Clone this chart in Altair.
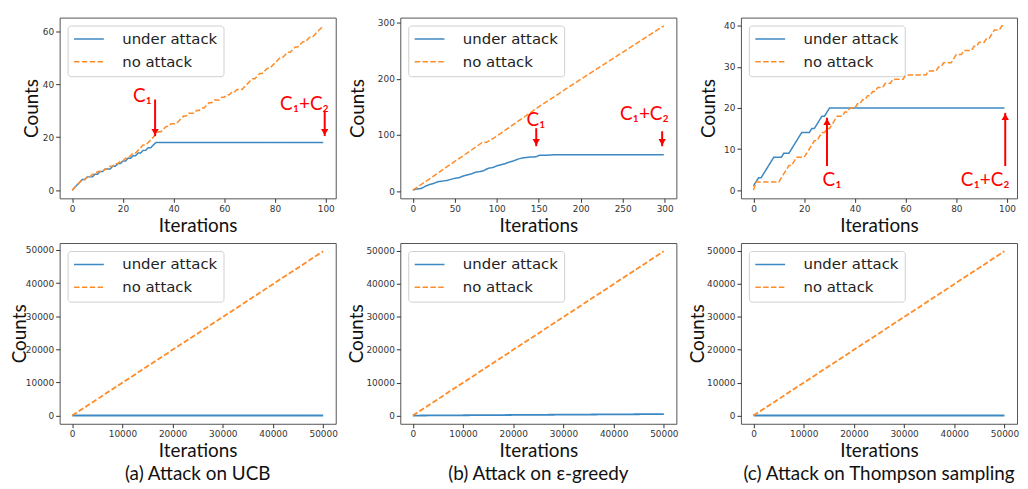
import altair as alt
import pandas as pd

SERIES = ["under attack", "no attack"]
BLUE = "#3b88c3"
ORANGE = "#ff8b26"
RED = "#ff0000"
W, H = 278, 182

# ---------- (a) UCB, first 100 iterations ----------
a1_under_x = list(range(34)) + [99]
a1_under_y = [0, 1, 2, 3, 4, 4, 5, 5, 5, 6, 6, 7, 7, 8, 8, 8, 9, 9, 10, 10,
              11, 11, 12, 12, 13, 13, 14, 14, 15, 15, 16, 16, 17, 18, 18]
a1_none_x = list(range(100))
a1_none_y = [0, 1, 2, 3, 4, 4, 5, 5, 6, 6, 7, 7, 7, 8, 8, 9, 9, 10, 10, 11,
             11, 12, 12, 13, 14, 14, 15, 16, 17, 17, 18, 19, 20, 21, 22, 22, 23, 24, 24, 25,
             25, 25, 26, 27, 28, 28, 29, 29, 29, 30, 30, 31, 31, 32, 33, 33, 34, 34, 34, 35,
             35, 36, 36, 37, 37, 38, 38, 38, 39, 40, 41, 42, 42, 43, 44, 44, 45, 46, 46, 47,
             48, 49, 50, 50, 51, 52, 52, 53, 54, 54, 55, 56, 56, 57, 58, 58, 59, 60, 61, 62]
a1_arrow_x = [32.7, 99.6]
a1_arrow_from = [34.2, 30.0]
a1_arrow_tip = [20.4, 20.4]
a1_label_x = [27.7, 91.6]
a1_label_y = [35.5, 32.5]
a1_label_text = ["C₁", "C₁+C₂"]

# ---------- (b) epsilon-greedy, first 300 iterations ----------
b1_under_x = [0, 5, 10, 15, 20, 25, 30, 35, 40, 45, 50, 55, 60, 65, 70, 75, 80, 85, 90, 95,
              100, 105, 110, 115, 120, 125, 130, 135, 140, 145, 148, 151, 160, 170, 299]
b1_under_y = [2, 4, 5, 9, 12, 14, 17, 18, 19, 21, 23, 24, 27, 29, 31, 34, 35, 37, 41, 42,
              45, 47, 49, 52, 54, 57, 59, 60, 61, 61, 62, 64, 64, 65, 65]
b1_none_x = [0, 20, 40, 60, 82, 88, 100, 150, 200, 250, 299]
b1_none_y = [2, 22, 43, 63, 86, 87, 98, 150, 199, 247, 294]
b1_arrow_x = [147, 297]
b1_arrow_from = [112, 106.6]
b1_arrow_tip = [80, 80]
b1_label_x = [146.6, 275.8]
b1_label_y = [126, 137]
b1_label_text = ["C₁", "C₁+C₂"]

# ---------- (c) Thompson sampling, first 100 iterations ----------
c1_under_x = list(range(31)) + [99]
c1_under_y = [1, 2, 3, 3, 4, 5, 6, 7, 8, 8, 8, 8, 9, 9, 9, 10, 11, 12, 13, 14,
              14, 14, 14, 15, 15, 16, 17, 18, 18, 19, 20, 20]
c1_none_x = list(range(100))
c1_none_y = [0, 2, 2, 2, 2, 2, 2, 2, 2, 2, 2, 3, 4, 5, 6, 6, 7, 8, 8, 8,
             8, 9, 10, 11, 12, 12, 13, 14, 14, 15, 15, 16, 17, 18, 18, 18, 19, 19, 20, 20,
             20, 21, 21, 22, 22, 23, 23, 24, 24, 25, 25, 25, 26, 26, 26, 27, 27, 27, 27, 27,
             28, 28, 28, 28, 28, 28, 28, 28, 28, 29, 29, 29, 29, 30, 30, 31, 31, 31, 31, 32,
             33, 33, 33, 34, 34, 34, 34, 35, 35, 36, 36, 36, 37, 37, 38, 39, 39, 39, 40, 40]
c1_arrow_x = [29, 99.3]
c1_arrow_from = [5.85, 5.85]
c1_arrow_tip = [17.6, 18.8]
c1_label_x = [31, 91.4]
c1_label_y = [2.4, 2.4]
c1_label_text = ["C₁", "C₁+C₂"]

# ---------- long horizon (50000 iterations) ----------
a2_under_x = [0, 33, 49999]
a2_under_y = [0, 18, 18]
a2_none_x = [0, 49999]
a2_none_y = [0, 49600]

b2_under_x = [0, 49999]
b2_under_y = [2, 450]
b2_none_x = [0, 49999]
b2_none_y = [2, 49900]

c2_under_x = [0, 30, 49999]
c2_under_y = [1, 20, 20]
c2_none_x = [0, 49999]
c2_none_y = [0, 49800]

ticks_100 = [0, 20, 40, 60, 80, 100]
ticks_300 = [0, 50, 100, 150, 200, 250, 300]
ticks_50k = [0, 10000, 20000, 30000, 40000, 50000]


def margin(vals):
    lo, hi = min(vals), max(vals)
    p = 0.05 * (hi - lo)
    return [lo - p, hi + p]


LEG = alt.Legend(
    title=None, orient="top-left", offset=8,
    symbolType="M-3,0H3", symbolSize=100, symbolStrokeWidth=1.5,
    symbolOffset=8, labelOffset=26,
    labelFont="DejaVu Sans", labelFontSize=15, labelColor="#222",
    padding=6, rowPadding=7, fillColor="white", strokeColor="#d0d0d0",
    cornerRadius=3,
)


def panel(ux, uy, nx, ny, xticks, yticks, title_x, ann=None, caption=None, lw=1.5):
    df = pd.DataFrame({
        "x": ux + nx,
        "y": uy + ny,
        "series": [SERIES[0]] * len(ux) + [SERIES[1]] * len(nx),
    })
    xs = alt.Scale(domain=margin(ux + nx), nice=False, zero=False)
    ys = alt.Scale(domain=margin(uy + ny), nice=False, zero=False)
    enc = dict(
        x=alt.X("x:Q", scale=xs,
                axis=alt.Axis(values=xticks, format="d", title="Iterations",
                              titlePadding=3)),
        y=alt.Y("y:Q", scale=ys,
                axis=alt.Axis(values=yticks, format="d", title="Counts", titleX=title_x,
                              titleY=H / 2, titleAngle=270, titleAlign="center",
                              titleBaseline="middle")),
        color=alt.Color("series:N",
                        scale=alt.Scale(domain=SERIES, range=[BLUE, ORANGE]),
                        legend=LEG),
        strokeDash=alt.StrokeDash("series:N",
                                  scale=alt.Scale(domain=SERIES, range=[[1, 0], [5.5, 2.4]]),
                                  legend=LEG),
    )
    base = alt.Chart(df)
    layers = [
        base.mark_line(strokeWidth=lw).encode(**enc).transform_filter(alt.datum.series == s)
        for s in SERIES
    ]
    if ann is not None:
        ax, afrom, atip, lx, ly, ltxt, up = ann
        rdf = pd.DataFrame({"x": ax, "y": afrom, "y2": atip})
        hdf = pd.DataFrame({"x": ax, "y": atip})
        tdf = pd.DataFrame({"x": lx, "y": ly, "t": ltxt})
        layers.append(alt.Chart(rdf).mark_rule(color=RED, strokeWidth=2).encode(
            x="x:Q", y="y:Q", y2="y2:Q"))
        layers.append(alt.Chart(hdf).mark_point(
            shape="triangle-up" if up else "triangle-down", filled=True, color=RED,
            opacity=1, size=55, yOffset=(4 if up else -4)).encode(x="x:Q", y="y:Q"))
        layers.append(alt.Chart(tdf).mark_text(
            color=RED, font="Lato, DejaVu Sans", fontSize=19, align="center",
            baseline="middle").encode(x="x:Q", y="y:Q", text="t:N"))
    ch = alt.layer(*layers).properties(width=W, height=H)
    if caption:
        ch = ch.properties(title=alt.TitleParams(
            text=caption, orient="bottom", font="Lato", fontSize=19,
            fontWeight="normal", color="#111", offset=5, anchor="middle"))
    return ch


p1 = panel(a1_under_x, a1_under_y, a1_none_x, a1_none_y, ticks_100,
           [0, 10, 20, 30, 40, 50, 60], -28,
           ann=(a1_arrow_x, a1_arrow_from, a1_arrow_tip, a1_label_x, a1_label_y, a1_label_text, False))
p2 = panel(b1_under_x, b1_under_y, b1_none_x, b1_none_y, ticks_300,
           [0, 50, 100, 150, 200, 250, 300], -43,
           ann=(b1_arrow_x, b1_arrow_from, b1_arrow_tip, b1_label_x, b1_label_y, b1_label_text, False))
p3 = panel(c1_under_x, c1_under_y, c1_none_x, c1_none_y, ticks_100,
           [0, 5, 10, 15, 20, 25, 30, 35, 40], -33,
           ann=(c1_arrow_x, c1_arrow_from, c1_arrow_tip, c1_label_x, c1_label_y, c1_label_text, True))
p4 = panel(a2_under_x, a2_under_y, a2_none_x, a2_none_y, ticks_50k, ticks_50k, -40,
           caption="(a) Attack on UCB", lw=1.8)
p5 = panel(b2_under_x, b2_under_y, b2_none_x, b2_none_y, ticks_50k, ticks_50k, -44,
           caption="(b) Attack on ε-greedy", lw=1.8)
p6 = panel(c2_under_x, c2_under_y, c2_none_x, c2_none_y, ticks_50k, ticks_50k, -44,
           caption="(c) Attack on Thompson sampling", lw=1.8)

chart = alt.concat(
    p1, p2, p3, p4, p5, p6, columns=3,
    spacing={"row": 45, "column": 65}, bounds="flush",
).resolve_scale(
    x="independent", y="independent", color="independent", strokeDash="independent"
).resolve_legend(
    color="independent", strokeDash="independent"
).configure_view(
    stroke="#555", strokeWidth=1
).configure_axis(
    grid=False, domain=False, labelFont="DejaVu Sans", labelFontSize=9,
    labelColor="#333", tickColor="#333", tickSize=4, labelPadding=2,
    titleFont="Lato", titleFontSize=19, titleFontWeight="normal", titleColor="#111",
).properties(
    padding={"left": 2, "top": 7, "right": 0, "bottom": 0}
)

chart.save("out.html", embed_options={"renderer": "svg", "actions": False})
